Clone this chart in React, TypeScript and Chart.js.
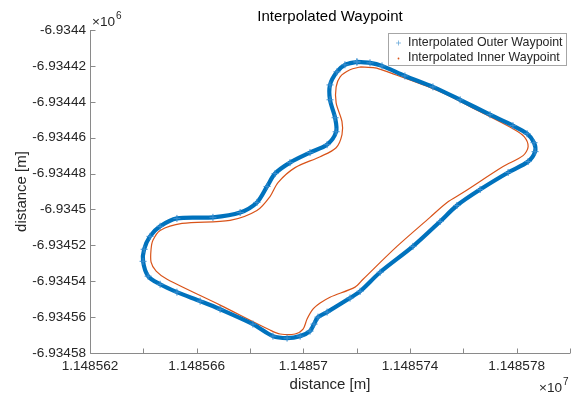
import React, { useEffect, useRef } from "react";
import { Chart, registerables } from "chart.js";

Chart.register(...registerables);

// Interpolated Outer Waypoint (m)
const outerX = [
  11485720.1, 11485725, 11485729.5, 11485738.1, 11485748.6, 11485758.8, 11485770, 11485778.6,
  11485783.9, 11485786.5, 11485786.9, 11485784.3, 11485776.8, 11485766.3, 11485757.6, 11485751.3,
  11485741.1, 11485728.8, 11485721.3, 11485717.5, 11485708.9, 11485705.5, 11485704, 11485702.5,
  11485698.8, 11485693.9, 11485688.6, 11485681.1, 11485668.8, 11485661.3, 11485652.6, 11485646.3,
  11485641.8, 11485639.9, 11485640.3, 11485642.5, 11485646.3, 11485652.6, 11485666.1, 11485676.3,
  11485682.6, 11485686.4, 11485689.4, 11485695, 11485702.5, 11485708.9, 11485712.3, 11485711.9,
  11485710, 11485710, 11485712.6, 11485715.6, 11485720.1,
];
const outerY = [
  -6934417.8, -6934418.3, -6934420, -6934425.6, -6934431.7, -6934438.9, -6934447.2, -6934453.3,
  -6934457.8, -6934462.8, -6934467.8, -6934473.3, -6934479.4, -6934488.9, -6934497.8, -6934506.7,
  -6934520.6, -6934535, -6934545.6, -6934549.4, -6934557.2, -6934560, -6934563.9, -6934567.8,
  -6934570.6, -6934571.7, -6934570.6, -6934563.9, -6934555.6, -6934551.1, -6934546.1, -6934541.7,
  -6934537.2, -6934528.9, -6934522.2, -6934515, -6934509.4, -6934505, -6934504.4, -6934501.7,
  -6934496.1, -6934487.2, -6934480, -6934473.9, -6934468.3, -6934463.9, -6934456.7, -6934448.9,
  -6934438.9, -6934430.6, -6934423.3, -6934419.4, -6934417.8,
];

// Interpolated Inner Waypoint (m)
const innerX = [
  11485721.3, 11485726.9, 11485730.6, 11485751.3, 11485766.3, 11485778.6, 11485782.8, 11485784.3,
  11485782.4, 11485774.9, 11485759.9, 11485753.9, 11485747.5, 11485735.1, 11485722.4, 11485719.4,
  11485710, 11485706.3, 11485703.6, 11485701.4, 11485699.9, 11485696.9, 11485691.3, 11485687.5,
  11485668.8, 11485648.9, 11485644.8, 11485642.9, 11485642.9, 11485643.6, 11485646.3, 11485654.5,
  11485672.5, 11485682.6, 11485687.5, 11485690.5, 11485696.9, 11485706.3, 11485712.3, 11485714.5,
  11485714.5, 11485712.3, 11485712.3, 11485713.8, 11485717.5, 11485721.3,
];
const innerY = [
  -6934420.6, -6934421.1, -6934422.8, -6934434.4, -6934445.6, -6934455, -6934459.4, -6934465,
  -6934470, -6934476.1, -6934490.6, -6934496.1, -6934504.4, -6934520.6, -6934538.9, -6934543.3,
  -6934548.9, -6934552.2, -6934555.6, -6934561.1, -6934566.7, -6934569.4, -6934569.4, -6934567.2,
  -6934553.3, -6934538.9, -6934534.4, -6934529.4, -6934522.2, -6934517.2, -6934511.7, -6934507.8,
  -6934506.1, -6934500.6, -6934492.8, -6934485, -6934476.7, -6934470.6, -6934465.6, -6934458.3,
  -6934451.1, -6934440.6, -6934431.7, -6934426.1, -6934422.2, -6934420.6,
];

const xMin = 11485620;
const xMax = 11485800;
const xStep = 20;
const xLabelStep = 40;
const yMin = -6934580;
const yMax = -6934400;
const yStep = 20;

const titleText = "Interpolated Waypoint";
const xTitle = "distance [m]";
const yTitle = "distance [m]";
const seriesNames = ["Interpolated Outer Waypoint", "Interpolated Inner Waypoint"];

const BLUE = "#0072BD";
const ORANGE = "#D95319";
const FONT = "'Liberation Sans', Arial, sans-serif";
const TEXT = "#262626";
const AXIS = "#8a8a8a";

function trimZeros(s: string): string {
  if (s.indexOf(".") >= 0) s = s.replace(/0+$/, "").replace(/\.$/, "");
  return s;
}

const matlabPlugin = {
  id: "matlabDecor",
  afterDraw(chart: any) {
    const { ctx, chartArea: a } = chart;
    const xs = chart.scales.x;
    const ys = chart.scales.y;
    ctx.save();
    ctx.strokeStyle = AXIS;
    ctx.lineWidth = 1;
    ctx.beginPath();
    const L = Math.round(a.left) + 0.5;
    const B = Math.round(a.bottom) + 0.5;
    ctx.moveTo(L, a.top);
    ctx.lineTo(L, B);
    ctx.lineTo(a.right, B);
    xs.ticks.forEach((t: any) => {
      const px = Math.round(xs.getPixelForValue(t.value)) + 0.5;
      ctx.moveTo(px, B);
      ctx.lineTo(px, B - 5);
    });
    ys.ticks.forEach((t: any) => {
      const py = Math.round(ys.getPixelForValue(t.value)) + 0.5;
      ctx.moveTo(L, py);
      ctx.lineTo(L + 5, py);
    });
    ctx.stroke();

    ctx.fillStyle = "#000";
    ctx.font = `15px ${FONT}`;
    ctx.textAlign = "center";
    ctx.textBaseline = "middle";
    ctx.fillText(titleText, (a.left + a.right) / 2, 17);

    ctx.fillStyle = TEXT;
    ctx.textAlign = "left";
    ctx.textBaseline = "alphabetic";
    ctx.font = `13.6px ${FONT}`;
    ctx.fillText("\u00d710", a.left + 2, 26);
    let w = ctx.measureText("\u00d710").width;
    ctx.font = `10px ${FONT}`;
    ctx.fillText("6", a.left + 2 + w + 1, 19);
    ctx.font = `13.6px ${FONT}`;
    ctx.fillText("\u00d710", a.right - 31, 392);
    w = ctx.measureText("\u00d710").width;
    ctx.font = `10px ${FONT}`;
    ctx.fillText("7", a.right - 31 + w + 1, 385);

    const lx = 388.5, ly = 33.5, lw = 178, lh = 32;
    ctx.fillStyle = "#fff";
    ctx.fillRect(lx, ly, lw, lh);
    ctx.strokeStyle = "#a6a6a6";
    ctx.strokeRect(lx, ly, lw, lh);
    ctx.font = `12.4px ${FONT}`;
    ctx.fillStyle = TEXT;
    ctx.textBaseline = "middle";
    ctx.fillText(seriesNames[0], 408, 43);
    ctx.fillText(seriesNames[1], 408, 58);
    ctx.strokeStyle = "#5aa0d6";
    ctx.lineWidth = 0.7;
    ctx.beginPath();
    ctx.moveTo(396, 43);
    ctx.lineTo(401, 43);
    ctx.moveTo(398.5, 40.5);
    ctx.lineTo(398.5, 45.5);
    ctx.stroke();
    ctx.fillStyle = ORANGE;
    ctx.beginPath();
    ctx.arc(398.5, 58.5, 0.9, 0, Math.PI * 2);
    ctx.fill();
    ctx.restore();
  },
};

export default function App() {
  const ref = useRef<HTMLCanvasElement | null>(null);
  useEffect(() => {
    if (!ref.current) return;
    const outer = outerX.map((x, i) => ({ x, y: outerY[i] }));
    const inner = innerX.map((x, i) => ({ x, y: innerY[i] }));
    const chart = new Chart(ref.current, {
      type: "scatter",
      data: {
        datasets: [
          {
            label: seriesNames[0],
            data: outer,
            showLine: true,
            borderColor: BLUE,
            backgroundColor: BLUE,
            borderWidth: 4.2,
            tension: 0.3,
            pointStyle: "cross",
            pointRadius: 3.5,
            pointBorderWidth: 1,
            pointBorderColor: "#3b8fd0",
          },
          {
            label: seriesNames[1],
            data: inner,
            showLine: true,
            borderColor: ORANGE,
            backgroundColor: ORANGE,
            borderWidth: 1.2,
            tension: 0.3,
            pointRadius: 0,
          },
        ],
      },
      options: {
        animation: false,
        responsive: false,
        devicePixelRatio: 1,
        layout: { padding: { top: 30, right: 8, left: 0, bottom: 0 } },
        plugins: {
          legend: { display: false },
          title: { display: false },
          tooltip: { enabled: false },
        },
        scales: {
          x: {
            type: "linear",
            min: xMin,
            max: xMax,
            grid: { display: false, drawTicks: false },
            border: { display: false },
            ticks: {
              stepSize: xStep,
              autoSkip: false,
              maxRotation: 0,
              padding: 5,
              color: TEXT,
              font: { family: FONT, size: 13.6 },
              callback: (v: any) => {
                const r = Math.round(Number(v));
                if ((r - xMin) % xLabelStep !== 0) return "";
                return trimZeros((r / 1e7).toFixed(6));
              },
            },
            title: {
              display: true,
              text: xTitle,
              color: TEXT,
              font: { family: FONT, size: 15 },
              padding: { top: 0, bottom: 0 },
            },
            afterFit: (s: any) => {
              s.height = 41;
            },
          },
          y: {
            type: "linear",
            min: yMin,
            max: yMax,
            grid: { display: false, drawTicks: false },
            border: { display: false },
            ticks: {
              stepSize: yStep,
              autoSkip: false,
              padding: 4,
              color: TEXT,
              font: { family: FONT, size: 13.6 },
              callback: (v: any) => {
                const r = Math.round(Number(v));
                return trimZeros((r / 1e6).toFixed(5));
              },
            },
            title: {
              display: true,
              text: yTitle,
              color: TEXT,
              font: { family: FONT, size: 15 },
              padding: { top: 13, bottom: 0 },
            },
            afterFit: (s: any) => {
              s.width = 90;
            },
          },
        },
      },
      plugins: [matlabPlugin],
    } as any);
    return () => chart.destroy();
  }, []);
  return (
    <div style={{ position: "fixed", left: 0, top: 0, width: 578, height: 394, background: "#fff" }}>
      <canvas ref={ref} width={578} height={394} style={{ display: "block" }} />
    </div>
  );
}
